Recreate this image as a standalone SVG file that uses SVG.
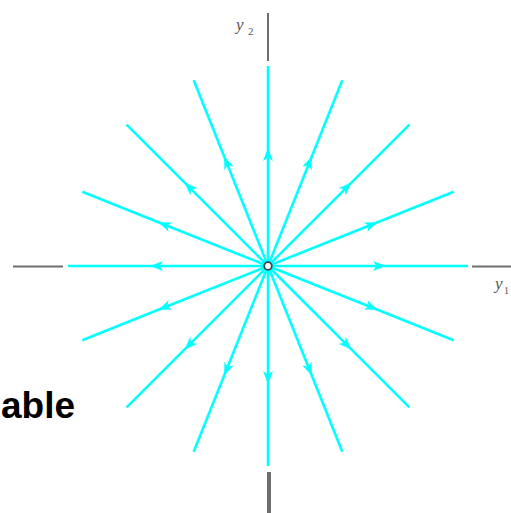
<svg xmlns="http://www.w3.org/2000/svg" width="511" height="513" viewBox="0 0 511 513">
<style>
.axis{stroke:#6e6e6e;stroke-width:2;fill:none}
.ray{stroke:#00ffff;stroke-width:2.6;fill:none;marker-mid:url(#ah)}
.lab{font-family:"Liberation Serif","DejaVu Serif",serif;fill:#555;font-style:italic}
.sub{font-family:"Liberation Serif","DejaVu Serif",serif;fill:#555}
.big{font-family:"Liberation Sans",Arial,sans-serif;font-weight:bold;font-size:37px;fill:#000}
</style>
<defs>
<marker id="ah" markerUnits="userSpaceOnUse" viewBox="0 0 13 10" refX="13" refY="5" markerWidth="13" markerHeight="10" orient="auto">
<path d="M0,0 L13,5 L0,10 L3.5,5 Z" fill="#00ffff"/>
</marker>
</defs>
<rect width="511" height="513" fill="#fff"/>
<g id="axes">
<line class="axis" x1="268" y1="13" x2="268" y2="61"/>
<line class="axis" x1="269" y1="472" x2="269" y2="513" style="stroke-width:4"/>
<line class="axis" x1="13" y1="266.5" x2="63" y2="266.5"/>
<line class="axis" x1="472" y1="266.5" x2="511" y2="266.5"/>
</g>
<g id="connectors">
<polyline class="ray" points="268,266 386,266 468,266"/>
<polyline class="ray" points="268,266 377.6,222.2 453.7,191.7"/>
<polyline class="ray" points="268,266 351.4,182.6 409.4,124.6"/>
<polyline class="ray" points="268,266 311.8,156.4 342.3,80.3"/>
<polyline class="ray" points="268,266 268,148 268,66"/>
<polyline class="ray" points="268,266 224.2,156.4 193.7,80.3"/>
<polyline class="ray" points="268,266 184.6,182.6 126.6,124.6"/>
<polyline class="ray" points="268,266 158.4,222.2 82.3,191.7"/>
<polyline class="ray" points="268,266 150,266 68,266"/>
<polyline class="ray" points="268,266 158.4,309.8 82.3,340.3"/>
<polyline class="ray" points="268,266 184.6,349.4 126.6,407.4"/>
<polyline class="ray" points="268,266 224.2,375.6 193.7,451.7"/>
<polyline class="ray" points="268,266 268,384 268,466"/>
<polyline class="ray" points="268,266 311.8,375.6 342.3,451.7"/>
<polyline class="ray" points="268,266 351.4,349.4 409.4,407.4"/>
<polyline class="ray" points="268,266 377.6,309.8 453.7,340.3"/>
</g>
<g id="origin">
<circle cx="268" cy="266" r="3.8" fill="#fff" stroke="#444" stroke-width="1.8"/>
</g>
<g id="labels">
<text class="lab" x="236" y="30" font-size="17">y</text>
<text class="sub" x="248" y="35" font-size="11">2</text>
<text class="lab" x="495" y="289" font-size="17">y</text>
<text class="sub" x="504" y="294" font-size="10">1</text>
<text class="big" x="1" y="418">able</text>
</g>
</svg>
